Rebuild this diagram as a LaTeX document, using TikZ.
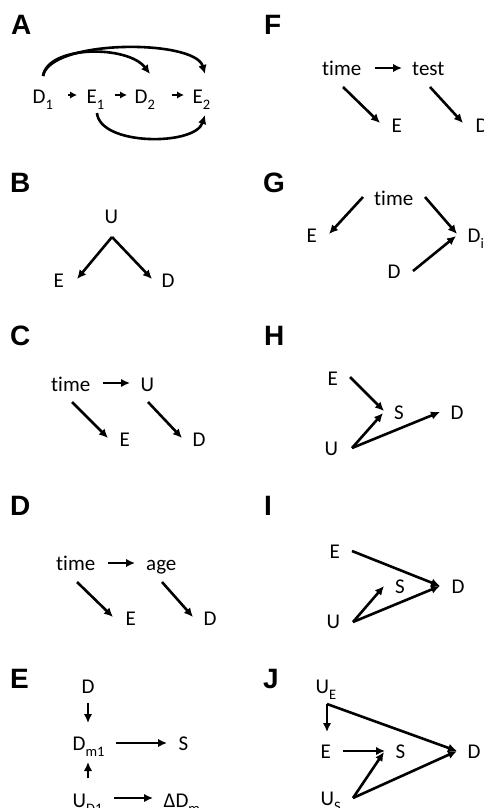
\documentclass[tikz,border=0pt]{standalone}
\usepackage{fontspec}
\setmainfont{Carlito}[Ligatures={NoCommon}]
\newfontfamily\lblfont{Liberation Sans}
\usetikzlibrary{arrows.meta}
\newcommand{\sbs}[1]{\raisebox{-0.3em}{\fontsize{14.5}{14.5}\selectfont #1}}
\tikzset{
 txt/.style={anchor=base west, inner sep=0pt, font=\fontsize{21}{24}\selectfont},
 lbl/.style={anchor=base west, inner sep=0pt, font=\lblfont\bfseries\fontsize{28}{30}\selectfont},
 arr/.style={line width=2.6pt, -{Latex[length=9pt,width=8.5pt]}},
 sarr/.style={line width=2.6pt, -{Latex[length=7pt,width=7.5pt]}},
}
\begin{document}
\begin{tikzpicture}[x=1pt,y=-1pt]
\useasboundingbox (0,0) rectangle (483,808);
% panel labels
\node[lbl] (LA) at (11,35) {A};
\node[lbl] (LF) at (264,35) {F};
\node[lbl] (LB) at (10,192) {B};
\node[lbl] (LG) at (263,192) {G};
\node[lbl] (LC) at (10,345) {C};
\node[lbl] (LH) at (264,345) {H};
\node[lbl] (LD) at (10,515) {D};
\node[lbl] (LI) at (264,515) {I};
\node[lbl] (LE) at (10,688) {E};
\node[lbl] (LJ) at (263,688) {J};

% ---------- A
\node[txt] (aD1) at (32.5,103) {D\sbs{1}};
\node[txt] (aE1) at (86.5,103) {E\sbs{1}};
\node[txt] (aD2) at (134.5,103) {D\sbs{2}};
\node[txt] (aE2) at (192.5,103) {E\sbs{2}};
\coordinate (a1s) at (68,95);  \coordinate (a1e) at (77,95);
\coordinate (a2s) at (115,95); \coordinate (a2e) at (127,95);
\coordinate (a3s) at (172,95); \coordinate (a3e) at (184,95);
\draw[sarr] (a1s) -- (a1e);
\draw[sarr] (a2s) -- (a2e);
\draw[sarr] (a3s) -- (a3e);
\coordinate (aD1t) at (43,76);
\coordinate (aD2t) at (150,74);
\coordinate (aE2t) at (205,74);
\coordinate (aE1b) at (97,113);
\coordinate (aE2b) at (205,115);
\draw[arr] (aD1t) .. controls (48,45) and (128,45) .. (aD2t);
\draw[arr] (aD1t) .. controls (50,39) and (195,39) .. (aE2t);
\draw[arr] (aE1b) .. controls (100,146) and (195,146) .. (aE2b);

% ---------- F
\node[txt] (fT) at (322,75) {time};
\node[txt] (fX) at (412,75) {test};
\node[txt] (fE) at (391.5,132) {E};
\node[txt] (fD) at (475.5,132) {D};
\coordinate (f1s) at (375,68); \coordinate (f1e) at (402,68);
\coordinate (f2s) at (343,87); \coordinate (f2e) at (380,123);
\coordinate (f3s) at (430,87); \coordinate (f3e) at (463,123);
\draw[arr] (f1s) -- (f1e);
\draw[arr] (f2s) -- (f2e);
\draw[arr] (f3s) -- (f3e);

% ---------- B
\node[txt] (bU) at (104.5,223) {U};
\node[txt] (bE) at (53.5,287) {E};
\node[txt] (bD) at (161.5,287) {D};
\coordinate (bA) at (112,237);
\coordinate (bEe) at (77,279);
\coordinate (bDe) at (152,279);
\draw[arr] (bA) -- (bEe);
\draw[arr] (bA) -- (bDe);

% ---------- G
\node[txt] (gT) at (374,205) {time};
\node[txt] (gE) at (306.5,242) {E};
\node[txt] (gDi) at (467.5,242) {D\sbs{i}};
\node[txt] (gD) at (387.5,278) {D};
\coordinate (g1s) at (363,197); \coordinate (g1e) at (329,234);
\coordinate (g2s) at (425,197); \coordinate (g2e) at (457,234);
\coordinate (g3s) at (413,271); \coordinate (g3e) at (456,236);
\draw[arr] (g1s) -- (g1e);
\draw[arr] (g2s) -- (g2e);
\draw[arr] (g3s) -- (g3e);

% ---------- C
\node[txt] (cT) at (51,391) {time};
\node[txt] (cU) at (140.5,391) {U};
\node[txt] (cE) at (119.5,446) {E};
\node[txt] (cD) at (192.5,446) {D};
\coordinate (c1s) at (103,383); \coordinate (c1e) at (130,383);
\coordinate (c2s) at (72,402);  \coordinate (c2e) at (108,438);
\coordinate (c3s) at (148,402); \coordinate (c3e) at (182,438);
\draw[arr] (c1s) -- (c1e);
\draw[arr] (c2s) -- (c2e);
\draw[arr] (c3s) -- (c3e);

% ---------- H
\node[txt] (hE) at (327.5,385) {E};
\node[txt] (hS) at (394,419) {S};
\node[txt] (hD) at (450.5,419) {D};
\node[txt] (hU) at (324.5,455) {U};
\coordinate (h1s) at (350,377); \coordinate (h1e) at (384,411);
\coordinate (hUs) at (352,448);
\coordinate (h2e) at (383,413);
\coordinate (h3e) at (440,412);
\draw[arr] (h1s) -- (h1e);
\draw[arr] (hUs) -- (h2e);
\draw[arr] (hUs) -- (h3e);

% ---------- D
\node[txt] (dT) at (56,570) {time};
\node[txt] (dA) at (146,570) {age};
\node[txt] (dE) at (125.5,625) {E};
\node[txt] (dD) at (203.5,625) {D};
\coordinate (d1s) at (108,563); \coordinate (d1e) at (135,563);
\coordinate (d2s) at (77,582);  \coordinate (d2e) at (113,617);
\coordinate (d3s) at (162,582); \coordinate (d3e) at (193,617);
\draw[arr] (d1s) -- (d1e);
\draw[arr] (d2s) -- (d2e);
\draw[arr] (d3s) -- (d3e);

% ---------- I
\node[txt] (iE) at (329.5,558) {E};
\node[txt] (iS) at (395,593) {S};
\node[txt] (iD) at (451.5,593) {D};
\node[txt] (iU) at (326.5,628) {U};
\coordinate (iEs) at (352,551);
\coordinate (iDe) at (440,586);
\coordinate (iUs) at (353,622);
\coordinate (iSe) at (384,586);
\draw[arr] (iEs) -- (iDe);
\draw[arr] (iUs) -- (iSe);
\draw[arr] (iUs) -- (iDe);

% ---------- E
\node[txt] (eD) at (81.5,693) {D};
\node[txt] (eDm) at (72.5,750) {D\sbs{m1}};
\node[txt] (eS) at (178.5,750) {S};
\node[txt] (eU) at (72.5,807) {U\sbs{D1}};
\node[txt] (eDD) at (163.5,807) {ΔD\sbs{m}};
\coordinate (e1s) at (88,703); \coordinate (e1e) at (88,723);
\coordinate (e2s) at (88,778); \coordinate (e2e) at (88,762);
\coordinate (e3s) at (116,743); \coordinate (e3e) at (167,743);
\coordinate (e4s) at (114,798); \coordinate (e4e) at (153,798);
\draw[arr] (e1s) -- (e1e);
\draw[arr] (e2s) -- (e2e);
\draw[arr] (e3s) -- (e3e);
\draw[arr] (e4s) -- (e4e);

% ---------- J
\node[txt] (jUE) at (315.5,693) {U\sbs{E}};
\node[txt] (jE) at (320.5,758) {E};
\node[txt] (jS) at (395.5,758) {S};
\node[txt] (jD) at (467.5,758) {D};
\node[txt] (jUS) at (320.5,805) {U\sbs{S}};
\coordinate (jA) at (327,704);
\coordinate (jEe) at (327,732);
\coordinate (jDe) at (457,751);
\coordinate (jEs) at (343,751); \coordinate (jSe) at (385,751);
\coordinate (jB) at (353,798);
\coordinate (jSe2) at (384,752);
\draw[arr] (jA) -- (jEe);
\draw[arr] (jA) -- (jDe);
\draw[arr] (jEs) -- (jSe);
\draw[arr] (jB) -- (jSe2);
\draw[arr] (jB) -- (jDe);
\end{tikzpicture}
\end{document}
